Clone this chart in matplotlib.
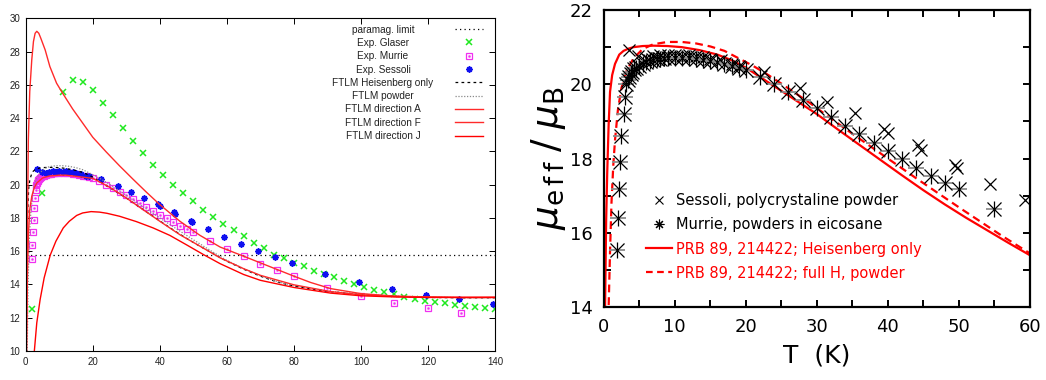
import matplotlib
matplotlib.use("Agg")
import matplotlib.pyplot as plt
from matplotlib.lines import Line2D
from matplotlib.ticker import MultipleLocator
from matplotlib import transforms

# ---------------- data ----------------
paramag_limit = 15.75

glaser_T = [2, 5, 11, 14, 17, 20, 23, 26, 29, 32, 35, 38, 41, 44, 47, 50, 53, 56, 59, 62,
            65, 68, 71, 74, 77, 80, 83, 86, 89, 92, 95, 98, 101, 104, 107, 110, 113, 116,
            119, 122, 125, 128, 131, 134, 137, 140]
glaser_v = [12.5, 19.5, 25.6, 26.3, 26.2, 25.7, 24.9, 24.2, 23.4, 22.6, 21.9, 21.2, 20.6, 20.0,
            19.5, 19.0, 18.5, 18.07, 17.65, 17.27, 16.89, 16.5, 16.2, 15.8, 15.6, 15.3, 15.1,
            14.8, 14.6, 14.42, 14.22, 14.04, 13.86, 13.67, 13.53, 13.41, 13.27, 13.13, 13.03,
            12.95, 12.87, 12.77, 12.69, 12.63, 12.57, 12.5]

murrie_T = [1.83, 2.0, 2.2, 2.35, 2.5, 2.8, 3.0, 3.2, 3.4, 3.6, 3.8, 4.0, 4.3, 4.6, 5.0, 5.5,
            6.0, 6.5, 7.0, 7.5, 8.0, 8.5, 9.0, 10, 11, 12, 13, 14, 15, 16, 17, 18, 19, 20,
            22, 24, 26, 28, 30, 32, 34, 36, 38, 40, 42, 44, 46, 48, 50,
            55, 60, 65, 70, 75, 80, 90, 100, 110, 120, 130]
murrie_v = [15.55, 16.39, 17.17, 17.9, 18.6, 19.19, 19.67, 20.0, 20.12, 20.2, 20.27, 20.33,
            20.4, 20.45, 20.5, 20.55, 20.6, 20.62, 20.65, 20.67, 20.68, 20.7, 20.7, 20.71,
            20.71, 20.7, 20.68, 20.65, 20.62, 20.6, 20.55, 20.5, 20.45, 20.38,
            20.2, 20.0, 19.8, 19.58, 19.35, 19.12, 18.88, 18.65, 18.42, 18.2, 17.98, 17.76,
            17.53, 17.35, 17.18, 16.64, 16.16, 15.72, 15.26, 14.86, 14.48, 13.81, 13.3,
            12.9, 12.57, 12.29]

sessoli_T = [3.5, 4.8, 6.0, 7.0, 8.0, 9.0, 10.0, 11.0, 12.0, 13.0, 14.0, 15.0, 16.5, 18.0,
             19.0, 22.5, 27.6, 31.4, 35.4, 39.4, 40.0, 44.3, 44.6, 49.4, 49.7, 54.4, 59.3,
             64.3, 69.3, 74.4, 79.5, 89.4, 99.4, 109.4, 119.4, 129.3, 139.5]
sessoli_v = [20.92, 20.75, 20.7, 20.75, 20.8, 20.78, 20.8, 20.76, 20.8, 20.75, 20.74, 20.68,
             20.65, 20.55, 20.5, 20.33, 19.89, 19.53, 19.22, 18.81, 18.7, 18.38, 18.22, 17.82,
             17.74, 17.33, 16.88, 16.45, 16.02, 15.65, 15.3, 14.62, 14.16, 13.72, 13.39,
             13.13, 12.85]

heis_T = [0.12, 0.2, 0.35, 0.5, 0.7, 0.9, 1.2, 1.6, 2.2, 2.8, 3.5, 4.2, 5.5, 7, 9, 11, 13.5,
          16, 18, 20, 22, 24, 26, 28, 30, 33, 36, 39, 42, 45, 48, 51, 54, 57, 60, 65, 70,
          75, 80, 90, 100, 110, 120, 130, 140]
heis_v = [10.0, 14.0, 16.3, 17.6, 18.9, 19.8, 20.25, 20.55, 20.8, 20.9, 20.96, 21.0, 21.03,
          21.04, 21.03, 21.0, 20.92, 20.8, 20.65, 20.45, 20.2, 19.95, 19.7, 19.45, 19.2,
          18.78, 18.37, 17.96, 17.55, 17.15, 16.77, 16.41, 16.07, 15.73, 15.4, 14.92, 14.5,
          14.15, 13.9, 13.58, 13.4, 13.28, 13.22, 13.2, 13.2]

powder_T = [0.45, 0.7, 0.9, 1.1, 1.35, 1.6, 2.0, 2.5, 3.2, 4.2, 5.5, 7, 9, 11, 13, 15, 17,
            19, 21, 23, 25, 27, 29, 32, 35, 38, 41, 44, 47, 50, 53, 56, 60, 65, 70, 75, 80,
            90, 100, 110, 120, 130, 140]
powder_v = [10.0, 14.0, 15.5, 16.8, 17.8, 18.5, 19.3, 19.9, 20.35, 20.7, 20.95, 21.08, 21.14,
            21.14, 21.1, 21.02, 20.9, 20.7, 20.5, 20.27, 20.02, 19.76, 19.5, 19.08, 18.67,
            18.27, 17.87, 17.47, 17.08, 16.69, 16.31, 15.93, 15.45, 14.95, 14.52, 14.17,
            13.92, 13.6, 13.42, 13.3, 13.24, 13.21, 13.2]

dirA_T = [0.2, 0.45, 0.78, 1.2, 1.8, 2.3, 2.8, 3.3, 3.9, 4.5, 5.8, 7.2, 9.2, 11, 14, 17, 20,
          24, 28, 32, 36, 40, 46, 52, 58, 65, 70, 75, 80, 85, 91, 100, 110, 120, 130, 140]
dirA_v = [10.0, 16.0, 22.7, 25.6, 27.5, 28.6, 29.1, 29.22, 29.1, 28.8, 28.1, 27.1, 26.1, 25.5,
          24.55, 23.7, 22.85, 21.97, 21.13, 20.33, 19.55, 18.8, 17.8, 16.95, 16.25, 15.7,
          15.3, 14.9, 14.5, 14.12, 13.75, 13.45, 13.3, 13.25, 13.22, 13.22]

dirF_T = [0.25, 0.5, 0.8, 1.2, 1.8, 2.5, 3.3, 5, 7, 10, 12, 15, 20, 25, 30, 35, 40, 46, 52,
          58, 65, 70, 80, 91, 100, 110, 120, 130, 140]
dirF_v = [10.0, 14.5, 17.0, 18.5, 19.3, 19.8, 20.1, 20.4, 20.52, 20.57, 20.57, 20.5, 20.38,
          19.85, 19.2, 18.5, 17.8, 16.99, 16.3, 15.6, 14.95, 14.55, 13.98, 13.57, 13.38,
          13.28, 13.24, 13.22, 13.22]

dirJ_T = [2.57, 3.3, 4.3, 5.5, 7.3, 9, 11.2, 13, 15.2, 17, 19.5, 22, 24.2, 28, 33, 38, 43,
          48, 53, 58, 65, 70, 80, 91, 100, 110, 120, 130, 140]
dirJ_v = [10.0, 11.7, 13.1, 14.4, 15.76, 16.6, 17.4, 17.8, 18.15, 18.3, 18.38, 18.35, 18.28,
          18.1, 17.78, 17.4, 16.95, 16.38, 15.8, 15.25, 14.6, 14.25, 13.82, 13.48, 13.32,
          13.25, 13.22, 13.22, 13.23]

left_labels = ["paramag. limit", "Exp. Glaser", "Exp. Murrie", "Exp. Sessoli",
               "FTLM Heisenberg only", "FTLM powder", "FTLM direction A",
               "FTLM direction F", "FTLM direction J"]
right_labels = ["Sessoli, polycrystaline powder", "Murrie, powders in eicosane",
                "PRB 89, 214422; Heisenberg only", "PRB 89, 214422; full H, powder"]
left_xticks = [0, 20, 40, 60, 80, 100, 120, 140]
left_yticks = [10, 12, 14, 16, 18, 20, 22, 24, 26, 28, 30]
right_xticks = [0, 10, 20, 30, 40, 50, 60]
right_yticks = [14, 16, 18, 20, 22]
right_xmax = 60

# ---------------- figure ----------------
fig = plt.figure(figsize=(10.46, 3.8), dpi=100)
ax1 = fig.add_axes([0.0246, 0.0763, 0.4486, 0.8755])
ax2 = fig.add_axes([0.5771, 0.1913, 0.4076, 0.7824])

LF = "Liberation Sans"

# ----- left panel (gnuplot style) -----
h_par = ax1.axhline(paramag_limit, color="black", lw=0.9, ls=(0, (1.0, 2.6)))
h_gla, = ax1.plot(glaser_T, glaser_v, ls="none", marker="x", ms=4.2, mew=1.1,
                  color="#1fe81f")
h_mur, = ax1.plot(murrie_T, murrie_v, ls="none", marker="s", ms=4.8, mew=0.9,
                  mfc="none", mec="#f030f0")
h_murd, = ax1.plot(murrie_T, murrie_v, ls="none", marker="s", ms=1.0, mew=0.6,
                   mfc="#f030f0", mec="#f030f0")
h_ses, = ax1.plot(sessoli_T, sessoli_v, ls="none", marker=(8, 2, 0), ms=4.4, mew=1.2,
                  color="#1010f0")
h_hei, = ax1.plot(heis_T, heis_v, color="black", lw=0.9, ls=(0, (2.2, 2.6)))
h_pow, = ax1.plot(powder_T, powder_v, color="#8a8a8a", lw=0.9, ls=(0, (1.0, 1.3)))
h_A, = ax1.plot(dirA_T, dirA_v, color="#ff2a2a", lw=1.0)
h_F, = ax1.plot(dirF_T, dirF_v, color="#ff2a2a", lw=1.0)
h_J, = ax1.plot(dirJ_T, dirJ_v, color="#ff0000", lw=1.0)

ax1.set_xlim(0, 140)
ax1.set_ylim(10, 30)
ax1.set_xticks(left_xticks)
ax1.set_yticks(left_yticks)
ax1.tick_params(direction="in", length=4, width=0.7, top=True, right=True,
                labelsize=7, pad=4, labelcolor="#222222")
for lab in ax1.get_xticklabels() + ax1.get_yticklabels():
    lab.set_family(LF)
for s in ax1.spines.values():
    s.set_linewidth(0.8)

leg1 = ax1.legend([h_par, h_gla, (h_mur, h_murd), h_ses, h_hei, h_pow, h_A, h_F, h_J],
                  left_labels, loc="upper right", bbox_to_anchor=(0.9745, 0.981),
                  borderaxespad=0, borderpad=0, frameon=False, markerfirst=False,
                  handlelength=2.85, handletextpad=0.8, labelspacing=0.33,
                  prop={"family": LF, "size": 7.2}, labelcolor="#222222")

# ----- right panel -----
mur_in_T = [t for t in murrie_T if t < right_xmax]
mur_in_v = [v for t, v in zip(murrie_T, murrie_v) if t < right_xmax]

ax2.plot(heis_T, heis_v, color="#ff0000", lw=1.6, zorder=2)
ax2.plot(powder_T, powder_v, color="#ff0000", lw=1.6, ls=(0, (3.5, 2.2)), zorder=2)
ax2.plot(sessoli_T, sessoli_v, ls="none", marker="x", ms=8.5, mew=0.9, color="black",
         zorder=3)
ax2.plot(mur_in_T, mur_in_v, ls="none", marker="_", ms=12, mew=1.3, color="#8c8c8c",
         zorder=3)
ax2.plot(mur_in_T, mur_in_v, ls="none", marker="x", ms=10, mew=0.9, color="black",
         zorder=3)
ax2.plot(mur_in_T, mur_in_v, ls="none", marker="|", ms=12, mew=0.9, color="black",
         zorder=3)

ax2.set_xlim(0, right_xmax)
ax2.set_ylim(14, 22)
ax2.set_xticks(right_xticks)
ax2.set_yticks(right_yticks)
ax2.xaxis.set_minor_locator(MultipleLocator(5))
ax2.yaxis.set_minor_locator(MultipleLocator(1))
ax2.tick_params(which="both", direction="in", length=5, width=1.4, top=True, right=True)
ax2.tick_params(which="major", labelsize=13, pad=8)
for s in ax2.spines.values():
    s.set_linewidth(1.6)
ax2.set_xlabel("T  (K)", fontsize=18, labelpad=5)
ax2.set_ylabel(r"$\mu_{\rm e\,f\,f}\;/\;\mu_{\rm B}$", fontsize=27, labelpad=1)

h_s2 = Line2D([], [], ls="none", marker="x", ms=6, mew=0.8, color="black")
h_m2 = Line2D([], [], ls="none", marker=(8, 2, 0), ms=7, mew=0.8, color="black")
h_l1 = Line2D([], [], color="#ff0000", lw=1.6)
h_l2 = Line2D([], [], color="#ff0000", lw=1.6, ls=(0, (3.0, 2.0)))
ax2.legend([h_s2, h_m2, h_l1, h_l2], right_labels, loc="upper left",
           bbox_to_anchor=(0.0992, 0.383), borderaxespad=0, borderpad=0, frameon=False,
           handlelength=1.76, handletextpad=0.3, labelspacing=0.62, fontsize=10.5,
           labelcolor=["black", "black", "#ff0000", "#ff0000"])

# centre the left legend labels like gnuplot does
fig.canvas.draw()
renderer = fig.canvas.get_renderer()
blend = transforms.blended_transform_factory(ax1.transAxes, transforms.IdentityTransform())
for t in leg1.get_texts():
    bb = t.get_window_extent(renderer)
    ax1.text(0.7614, bb.y0, t.get_text(), transform=blend, ha="center", va="bottom",
             family=LF, fontsize=7.2, color="#222222")
    t.set_visible(False)

fig.savefig("out.png", dpi=100)
